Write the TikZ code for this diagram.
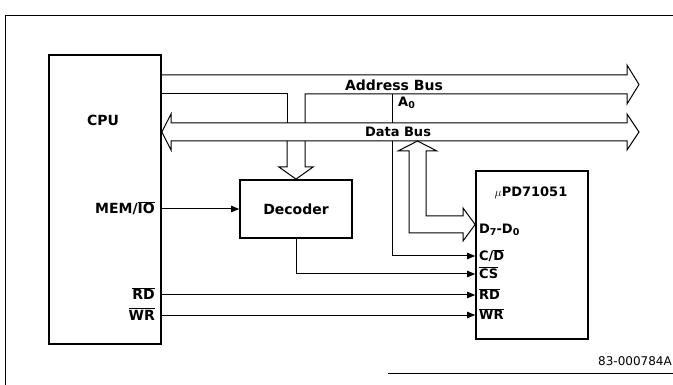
\documentclass[tikz,border=0pt]{standalone}
\usepackage{fontspec}
\setmainfont{DejaVu Sans}
\usetikzlibrary{arrows.meta,calc}
\tikzset{
  chip/.style={draw,line width=1.7pt,inner sep=0pt},
  sig/.style={-{Triangle[length=8pt,width=6.5pt]},line width=1pt},
  wire/.style={line width=1pt},
  bus/.style={line width=1pt,line join=miter},
  lbl/.style={font=\fontsize{14}{16}\selectfont\bfseries,inner sep=0pt},
  pinlbl/.style={font=\fontsize{13}{15}\selectfont\bfseries,inner sep=0pt},
  frame/.style={line width=1pt}
}
\newcommand\ovl[1]{$\overline{\hbox{#1}}$}
\newcommand\subs[1]{\raisebox{-0.3ex}{\fontsize{9.5}{10}\selectfont #1}}

\begin{document}
\begin{tikzpicture}[x=1pt,y=-1pt]
  \useasboundingbox (0,0) rectangle (673,385);
  % frame of the figure
  \draw[frame] (673,16) -- (5,16) -- (5,385);
  \draw[frame] (388,373) -- (673,373);

  % blocks
  \node[chip,minimum width=112pt,minimum height=289pt] (cpu) at (105,199.5) {};
  \node[chip,minimum width=112pt,minimum height=58pt] (dec) at (296,209) {};
  \node[chip,minimum width=112pt,minimum height=168pt] (upd) at (532,255) {};
  \node[lbl] (cpuname) at (103,120) {CPU};
  \node[lbl] (decname) at (dec.center) {Decoder};
  \node[pinlbl] (updname) at (531,193) {$\mu$PD71051};

  % address bus
  \draw[bus] (cpu.east |- 0,75) -- (627,75) -- (627,65) -- (639,84.5) -- (627,104)
    -- (627,94) -- (305,94) -- (305,123);
  \draw[bus] (cpu.east |- 0,94) -- (287,94) -- (287,123);
  \draw[bus] (287,141) -- (287,167) -- (279,167) -- (dec.north) -- (313,167)
    -- (305,167) -- (305,141);
  \node[lbl] (abus) at (394,85) {Address Bus};

  % data bus
  \draw[bus] (171,123) -- (627,123) -- (627,114) -- (639,132) -- (627,150)
    -- (627,141) -- (171,141) -- (171,150) -- (cpu.east |- 0,132) -- (171,114) -- cycle;
  \node[pinlbl] (dbus) at (398,132) {Data Bus};

  % D7-D0 branch
  \draw[bus] (409,151) -- (398,151) -- (417.5,141) -- (437,151) -- (426,151)
    -- (426,216) -- (463,216) -- (463,208) -- (upd.west |- 0,224.5) -- (463,241)
    -- (463,233) -- (409,233) -- cycle;

  % A0
  \draw[wire] (392,94) -- (392,123);
  \draw[sig] (392,141) |- (upd.west |- 0,256);
  \node[pinlbl,anchor=west] (azero) at (398,103) {A\subs{0}};

  % control lines
  \draw[sig] (cpu.east |- dec.west) -- (dec.west);
  \draw[sig] (dec.south) |- (upd.west |- 0,274);
  \draw[sig] (cpu.east |- 0,295) -- (upd.west |- 0,295);
  \draw[sig] (cpu.east |- 0,315) -- (upd.west |- 0,315);

  % pin names
  \node[lbl,anchor=base east] (memio) at (155,214) {MEM/\ovl{IO}};
  \node[lbl,anchor=base east] (cpurd) at (155,300) {\ovl{RD}};
  \node[lbl,anchor=base east] (cpuwr) at (155,320) {\ovl{WR}};
  \node[pinlbl,anchor=base west] (upddata) at (479,233.5) {D\subs{7}-D\subs{0}};
  \node[pinlbl,anchor=base west] (updcd) at (479,260.6) {C/\ovl{D}};
  \node[pinlbl,anchor=base west] (updcs) at (479,278.6) {\ovl{CS}};
  \node[pinlbl,anchor=base west] (updrd) at (479,299.6) {\ovl{RD}};
  \node[pinlbl,anchor=base west] (updwr) at (479,319.6) {\ovl{WR}};

  \node[font=\fontsize{12}{14}\selectfont,anchor=base east,inner sep=0pt] (figno) at (672,365) {83-000784A};
\end{tikzpicture}
\end{document}
